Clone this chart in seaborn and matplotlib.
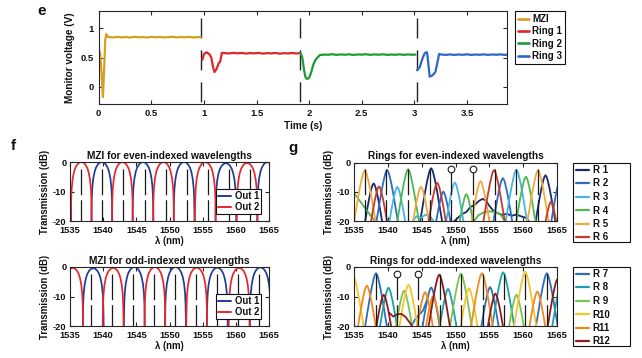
import numpy as np
import pandas as pd
import matplotlib
matplotlib.use("Agg")
import matplotlib.pyplot as plt
from matplotlib.lines import Line2D
from matplotlib.patches import Rectangle
import seaborn as sns

# ======================= DATA =======================
# ---- panel e : monitor voltage vs time ----
MZI_T = [0.005, 0.015, 0.028, 0.040, 0.052, 0.062, 0.072, 0.085,
         0.10, 0.14, 0.18, 0.22, 0.26, 0.30, 0.34, 0.38, 0.42, 0.46, 0.50,
         0.54, 0.58, 0.62, 0.66, 0.70, 0.74, 0.78, 0.82, 0.86, 0.90, 0.94, 0.97]
MZI_V = [0.62, 0.56, 0.20, -0.18, 0.30, 0.80, 0.90, 0.86,
         0.85, 0.845, 0.855, 0.846, 0.852, 0.843, 0.856, 0.848, 0.851, 0.844, 0.855,
         0.847, 0.853, 0.845, 0.850, 0.856, 0.846, 0.852, 0.848, 0.854, 0.845, 0.851, 0.849]

RING1_T = [0.985, 1.00, 1.025, 1.05, 1.07, 1.085, 1.10, 1.12, 1.14, 1.155, 1.17,
           1.20, 1.24, 1.28, 1.32, 1.36, 1.40, 1.44, 1.48, 1.52, 1.56, 1.60,
           1.64, 1.68, 1.72, 1.76, 1.80, 1.84, 1.88, 1.91]
RING1_V = [0.46, 0.56, 0.59, 0.56, 0.50, 0.35, 0.25, 0.30, 0.40, 0.43, 0.58,
           0.575, 0.57, 0.58, 0.572, 0.578, 0.568, 0.576, 0.571, 0.579, 0.567, 0.575,
           0.57, 0.578, 0.566, 0.574, 0.57, 0.577, 0.569, 0.575]

RING2_T = [1.92, 1.935, 1.95, 1.965, 1.98, 2.00, 2.02, 2.04, 2.06, 2.08, 2.10,
           2.14, 2.18, 2.22, 2.26, 2.30, 2.34, 2.38, 2.42, 2.46, 2.50, 2.54,
           2.58, 2.62, 2.66, 2.70, 2.74, 2.78, 2.82, 2.86, 2.90, 2.94, 2.98, 3.01]
RING2_V = [0.57, 0.50, 0.30, 0.16, 0.13, 0.15, 0.25, 0.38, 0.46, 0.50, 0.54,
           0.55, 0.548, 0.556, 0.545, 0.553, 0.547, 0.555, 0.544, 0.552, 0.549, 0.556,
           0.546, 0.553, 0.548, 0.555, 0.545, 0.551, 0.547, 0.554, 0.546, 0.552, 0.548, 0.55]

RING3_T = [3.025, 3.05, 3.08, 3.10, 3.12, 3.135, 3.145, 3.17, 3.20, 3.235,
           3.26, 3.30, 3.34, 3.38, 3.42, 3.46, 3.50, 3.54, 3.58, 3.62, 3.66,
           3.70, 3.74, 3.78, 3.82, 3.86, 3.88]
RING3_V = [0.28, 0.33, 0.50, 0.58, 0.59, 0.35, 0.17, 0.19, 0.25, 0.56,
           0.55, 0.545, 0.553, 0.544, 0.552, 0.546, 0.555, 0.545, 0.551, 0.547, 0.554,
           0.545, 0.552, 0.548, 0.553, 0.545, 0.55]

E_SWITCH_T = [0.975, 1.915, 3.02]
E_SERIES = ["MZI", "Ring 1", "Ring 2", "Ring 3"]
E_COLORS = ["#D4A020", "#E02626", "#1E9A3A", "#2E68C0"]
E_XTICKS = [0, 0.5, 1, 1.5, 2, 2.5, 3, 3.5]
E_XTICKLABELS = ["0", "0.5", "1", "1.5", "2", "2.5", "3", "3.5"]
E_YTICKS = [0, 0.5, 1]
E_YTICKLABELS = ["0", "0.5", "1"]

# ---- panel f : MZI transmission (arch peak centres / tops, dB) ----
EVEN_OUT1_PEAKS = [1533.6, 1539.8, 1546.0, 1552.2, 1558.5, 1564.8]
EVEN_OUT1_TOPS = [0.0, 0.0, 0.0, 0.0, -0.4, 0.0]
EVEN_OUT2_PEAKS = [1536.7, 1542.9, 1549.1, 1555.4, 1561.7]
EVEN_OUT2_TOPS = [0.0, 0.0, 0.0, 0.0, -0.3]
ODD_OUT1_PEAKS = [1538.5, 1544.7, 1550.9, 1557.2, 1563.7]
ODD_OUT1_TOPS = [-0.4, 0.0, 0.0, -0.2, -0.1]
ODD_OUT2_PEAKS = [1535.4, 1541.5, 1547.8, 1554.1, 1560.5]
ODD_OUT2_TOPS = [-0.3, -0.3, 0.0, -0.2, -0.3]
# half-profile of one MZI arch (offset from centre in nm, dB below top)
ARCH_HALF_DX = [0.0, 0.3, 0.6, 0.9, 1.1, 1.3, 1.45, 1.52, 1.56, 1.59]
ARCH_HALF_DB = [0.0, -0.2, -0.8, -2.0, -3.4, -5.7, -9.0, -12.6, -17.0, -30.0]
MZI_LABELS = ["Out 1", "Out 2"]
MZI_COLORS = ["#1F3C99", "#E8262A"]

# ---- panel g : ring drop-port peaks (centre nm, top dB) ----
RING_HALF_DX = [0.0, 0.15, 0.3, 0.6, 0.9, 1.2, 1.5, 1.9]
RING_HALF_DROP = [0.0, -0.5, -1.5, -4.5, -8.2, -12.3, -16.5, -22.0]

R1_PEAKS = [1537.9, 1546.4, 1563.3];          R1_TOPS = [-7.1, -1.9, -4.3]
R2_PEAKS = [1539.9, 1548.2, 1557.0, 1565.6];  R2_TOPS = [-2.5, -9.9, -5.3, -4.5]
R3_PEAKS = [1541.4, 1549.9, 1559.0];          R3_TOPS = [-8.3, -6.8, -2.4]
R4_PEAKS = [1543.0, 1551.6, 1560.4];          R4_TOPS = [-2.2, -10.8, -4.8]
R5_PEAKS = [1536.6, 1544.9, 1553.7, 1562.2];  R5_TOPS = [-2.5, -8.2, -6.3, -2.6]
R6_PEAKS = [1538.7, 1547.3, 1555.7, 1564.1];  R6_TOPS = [-8.1, -6.9, -2.5, -13.4]
R7_PEAKS = [1538.25, 1546.4, 1555.1, 1563.5]; R7_TOPS = [-2.1, -6.9, -6.8, -2.1]
R8_PEAKS = [1540.1, 1548.9, 1557.05, 1565.7]; R8_TOPS = [-7.0, -7.4, -1.8, -5.0]
R9_PEAKS = [1542.4, 1550.8, 1559.0];          R9_TOPS = [-8.0, -2.2, -9.4]
R10_PEAKS = [1534.9, 1543.05, 1552.0, 1560.3]; R10_TOPS = [-3.2, -6.0, -7.2, -1.6]
R11_PEAKS = [1536.9, 1545.5, 1546.7, 1553.9, 1562.1]; R11_TOPS = [-6.3, -8.5, -9.8, -2.1, -8.3]
R12_PEAKS = [1539.4, 1547.6, 1555.9, 1565.1];  R12_TOPS = [-9.4, -2.6, -9.0, -4.0]

# low-level background traces (nm, dB)
R1_BG_LAM = [1549.6, 1550.4, 1551.0, 1551.6, 1552.2, 1552.8, 1553.4, 1554.0, 1554.5, 1555.0,
             1555.6, 1556.2, 1556.9, 1557.6, 1558.3, 1559.0, 1559.7, 1560.4, 1561.0]
R1_BG_DB = [-20.5, -18.8, -17.6, -16.9, -15.2, -14.6, -13.2, -12.4, -13.0, -14.8,
            -16.5, -17.3, -17.9, -17.5, -18.2, -17.8, -18.4, -18.9, -20.5]
R3_BG_LAM = [1543.6, 1544.2, 1544.9, 1545.6, 1546.3, 1546.9]
R3_BG_DB = [-20.5, -18.4, -18.9, -17.8, -18.6, -20.5]
R4_BG1_LAM = [1535.0, 1535.7, 1536.4, 1537.1, 1537.8, 1538.4]
R4_BG1_DB = [-10.4, -12.6, -14.8, -17.0, -19.2, -21.0]
R4_BG2_LAM = [1552.6, 1553.4, 1554.2, 1555.0, 1555.8, 1556.6, 1557.4]
R4_BG2_DB = [-20.5, -18.0, -17.0, -16.7, -16.9, -17.6, -20.5]
R7_BG_LAM = [1543.4, 1544.0, 1544.7, 1545.2, 1545.9]
R7_BG_DB = [-20.5, -17.8, -16.0, -14.8, -10.5]
R12_BG_LAM = [1540.2, 1540.8, 1541.4, 1542.0, 1542.6, 1543.2, 1543.7]
R12_BG_DB = [-15.5, -16.8, -16.0, -15.9, -16.9, -18.7, -20.5]

EVEN_RINGS = ["R 1", "R 2", "R 3", "R 4", "R 5", "R 6"]
ODD_RINGS = ["R 7", "R 8", "R 9", "R10", "R11", "R12"]
EVEN_COLORS = ["#1B2A6B", "#2B6CC4", "#45B5E8", "#4DB84E", "#F2A93B", "#C43A2B"]
ODD_COLORS = ["#2F6DB5", "#1AA2A8", "#7CC350", "#F5C52A", "#EE8A1E", "#8E1B1B"]

EVEN_CH = [1536.6, 1539.8, 1543.0, 1546.3, 1549.4, 1552.6, 1555.8, 1559.0, 1562.2]
EVEN_CH_CIRCLE = [1549.4, 1552.6]
ODD_CH = [1538.2, 1541.4, 1544.5, 1547.7, 1550.8, 1554.0, 1557.1, 1560.3, 1563.5]
ODD_CH_CIRCLE = [1541.4, 1544.5]
CH_TOP_DB = -2.3

WL_TICKS = [1535, 1540, 1545, 1550, 1555, 1560, 1565]
DB_TICKS = [-20, -10, 0]

# ======================= STYLE =======================
sns.set_theme(style="ticks")
plt.rcParams.update({
    "font.family": ["Liberation Sans", "DejaVu Sans"],
    "font.weight": "bold",
    "axes.labelweight": "bold",
    "axes.titleweight": "bold",
    "xtick.direction": "in",
    "ytick.direction": "in",
    "xtick.top": True,
    "ytick.right": True,
    "axes.edgecolor": "#262626",
    "axes.linewidth": 0.8,
    "xtick.major.size": 3,
    "ytick.major.size": 3,
    "xtick.major.width": 0.8,
    "ytick.major.width": 0.8,
    "xtick.color": "#262626",
    "ytick.color": "#262626",
    "xtick.labelcolor": "#111111",
    "ytick.labelcolor": "#111111",
    "text.color": "#111111",
    "axes.labelcolor": "#111111",
    "lines.scale_dashes": False,
    "axes.unicode_minus": False,
})

W, H = 642, 358
fig = plt.figure(figsize=(W / 100, H / 100), dpi=100)
fig.patch.set_facecolor("white")


def add_ax(l, t, r, b):
    return fig.add_axes([l / W, 1 - b / H, (r - l) / W, (b - t) / H])


def mirror(center, top, half_dx, half_db):
    dx = np.asarray(half_dx, float)
    db = np.asarray(half_db, float)
    xs = np.concatenate([center - dx[::-1], center + dx[1:]])
    ys = np.concatenate([db[::-1], db[1:]]) + top
    return xs, ys


# ======================= PANEL e =======================
axe = add_ax(98.7, 11, 507, 104)
frames = []
for name, t, v in zip(E_SERIES, [MZI_T, RING1_T, RING2_T, RING3_T],
                      [MZI_V, RING1_V, RING2_V, RING3_V]):
    frames.append(pd.DataFrame({"t": t, "v": v, "series": name}))
dfe = pd.concat(frames, ignore_index=True)
sns.lineplot(data=dfe, x="t", y="v", hue="series", hue_order=E_SERIES,
             palette=dict(zip(E_SERIES, E_COLORS)), estimator=None, sort=False,
             units="series", legend=False, linewidth=1.6, ax=axe)
for ts in E_SWITCH_T:
    axe.plot([ts, ts], [1.3, -0.3], color="#222222", lw=1.0,
             linestyle=(18.0, (14.4, 8.6)), zorder=1)
axe.set_xlim(0, 3.88)
axe.set_ylim(-0.3, 1.3)
axe.set_xticks(E_XTICKS)
axe.set_xticklabels(E_XTICKLABELS)
axe.set_yticks(E_YTICKS)
axe.set_yticklabels(E_YTICKLABELS)
axe.tick_params(labelsize=6.8, pad=3.5)
axe.set_xlabel("Time (s)", fontsize=7.2, labelpad=2)
axe.set_ylabel("Monitor voltage (V)", fontsize=7.2, labelpad=4)
eh = [Line2D([], [], color=c, lw=1.9) for c in E_COLORS]
leg = fig.legend(eh, E_SERIES, loc="upper left", bbox_to_anchor=(515 / W, 1 - 11 / H),
                 frameon=True, fancybox=False, edgecolor="#111111", framealpha=1,
                 prop={"size": 7.0, "weight": "bold"}, borderpad=0.3,
                 handlelength=1.15, handletextpad=0.3, labelspacing=0.25,
                 borderaxespad=0)
leg.get_frame().set_linewidth(0.8)


# ======================= helpers for f/g =======================
def style_spec_ax(ax, title):
    ax.set_xlim(1535, 1565)
    ax.set_ylim(-20, 0)
    ax.set_xticks(WL_TICKS)
    ax.set_yticks(DB_TICKS)
    ax.tick_params(labelsize=6.7, pad=2.5)
    ax.tick_params(axis="x", pad=3.5)
    ax.set_title(title, fontsize=7.3, pad=2.5)
    ax.set_xlabel("λ (nm)", fontsize=6.9, labelpad=1)
    ax.set_ylabel("Transmission (dB)", fontsize=6.9, labelpad=2)


def channel_lines(ax, chans, circles):
    for c in chans:
        ax.plot([c, c], [CH_TOP_DB, -20], color="#1a1a1a", lw=0.9,
                linestyle=(0, (18.5, 3.6)), zorder=5)
    if circles:
        ax.plot(circles, [CH_TOP_DB] * len(circles), linestyle="none", marker="o",
                mfc="white", mec="#1a1a1a", ms=4.8, mew=0.8, zorder=6)


def mzi_panel(ax, p1, t1, p2, t2, chans, title, legend_top):
    rows = []
    seg = 0
    for name, peaks, tops in [(MZI_LABELS[0], p1, t1), (MZI_LABELS[1], p2, t2)]:
        for c, tp in zip(peaks, tops):
            xs, ys = mirror(c, tp, ARCH_HALF_DX, ARCH_HALF_DB)
            rows.append(pd.DataFrame({"lam": xs, "db": ys, "out": name, "seg": seg}))
            seg += 1
    df = pd.concat(rows, ignore_index=True)
    sns.lineplot(data=df, x="lam", y="db", hue="out", hue_order=MZI_LABELS,
                 palette=dict(zip(MZI_LABELS, MZI_COLORS)), units="seg",
                 estimator=None, sort=False, legend=False, linewidth=1.25, ax=ax)
    channel_lines(ax, chans, [])
    style_spec_ax(ax, title)
    hs = [Line2D([], [], color=c, lw=1.4) for c in MZI_COLORS]
    lg = ax.legend(hs, MZI_LABELS, loc="upper left",
                   bbox_to_anchor=(216 / W, 1 - legend_top / H),
                   bbox_transform=fig.transFigure, frameon=True, fancybox=False,
                   edgecolor="#111111", framealpha=1,
                   prop={"size": 6.9, "weight": "bold"}, borderpad=0.2,
                   handlelength=1.4, handletextpad=0.35, labelspacing=0.15,
                   borderaxespad=0)
    lg.get_frame().set_linewidth(0.8)
    lg.set_zorder(10)


def ring_panel(ax, names, colors, peak_lists, top_lists, bg_lists, chans, circles,
               title, legend_top, legend_bottom):
    rows = []
    seg = 0
    for name, peaks, tops in zip(names, peak_lists, top_lists):
        for c, tp in zip(peaks, tops):
            xs, ys = mirror(c, tp, RING_HALF_DX, RING_HALF_DROP)
            rows.append(pd.DataFrame({"lam": xs, "db": ys, "ring": name, "seg": seg}))
            seg += 1
    for name, lam, db in bg_lists:
        rows.append(pd.DataFrame({"lam": lam, "db": db, "ring": name, "seg": seg}))
        seg += 1
    df = pd.concat(rows, ignore_index=True)
    sns.lineplot(data=df, x="lam", y="db", hue="ring", hue_order=names,
                 palette=dict(zip(names, colors)), units="seg", estimator=None,
                 sort=False, legend=False, linewidth=1.3, ax=ax)
    channel_lines(ax, chans, circles)
    style_spec_ax(ax, title)
    hs = [Line2D([], [], color=c, lw=1.6) for c in colors]
    lg = fig.legend(hs, names, loc="upper left",
                    bbox_to_anchor=(576 / W, 1 - (legend_top + 2) / H),
                    frameon=False, prop={"size": 7.0, "weight": "bold"},
                    borderpad=0.0, handlelength=1.3, handletextpad=0.4,
                    labelspacing=0.36, borderaxespad=0)
    fig.add_artist(Rectangle((573 / W, 1 - legend_bottom / H), 57 / W,
                             (legend_bottom - legend_top) / H,
                             transform=fig.transFigure, fill=False,
                             lw=0.8, ec="#111111"))


# ======================= PANEL f =======================
axf1 = add_ax(70, 162, 269, 221)
mzi_panel(axf1, EVEN_OUT1_PEAKS, EVEN_OUT1_TOPS, EVEN_OUT2_PEAKS, EVEN_OUT2_TOPS,
          EVEN_CH, "MZI for even-indexed wavelengths", 189)
axf2 = add_ax(70, 267, 269, 326)
mzi_panel(axf2, ODD_OUT1_PEAKS, ODD_OUT1_TOPS, ODD_OUT2_PEAKS, ODD_OUT2_TOPS,
          ODD_CH, "MZI for odd-indexed wavelengths", 294)

# ======================= PANEL g =======================
axg1 = add_ax(354, 162.7, 557, 221)
ring_panel(axg1, EVEN_RINGS, EVEN_COLORS,
           [R1_PEAKS, R2_PEAKS, R3_PEAKS, R4_PEAKS, R5_PEAKS, R6_PEAKS],
           [R1_TOPS, R2_TOPS, R3_TOPS, R4_TOPS, R5_TOPS, R6_TOPS],
           [("R 1", R1_BG_LAM, R1_BG_DB), ("R 3", R3_BG_LAM, R3_BG_DB),
            ("R 4", R4_BG1_LAM, R4_BG1_DB), ("R 4", R4_BG2_LAM, R4_BG2_DB)],
           EVEN_CH, EVEN_CH_CIRCLE, "Rings for even-indexed wavelengths", 163, 242)
axg2 = add_ax(354, 267, 557, 326)
ring_panel(axg2, ODD_RINGS, ODD_COLORS,
           [R7_PEAKS, R8_PEAKS, R9_PEAKS, R10_PEAKS, R11_PEAKS, R12_PEAKS],
           [R7_TOPS, R8_TOPS, R9_TOPS, R10_TOPS, R11_TOPS, R12_TOPS],
           [("R 7", R7_BG_LAM, R7_BG_DB), ("R12", R12_BG_LAM, R12_BG_DB)],
           ODD_CH, ODD_CH_CIRCLE, "Rings for odd-indexed wavelengths", 267, 346)

# ======================= panel letters =======================
fig.text(37 / W, 1 - 11 / H, "e", fontsize=11, weight="bold", va="center", ha="left")
fig.text(11 / W, 1 - 146 / H, "f", fontsize=11, weight="bold", va="center", ha="left")
fig.text(288 / W, 1 - 148 / H, "g", fontsize=11, weight="bold", va="center", ha="left")

fig.savefig("out.png", dpi=100, facecolor="white")
